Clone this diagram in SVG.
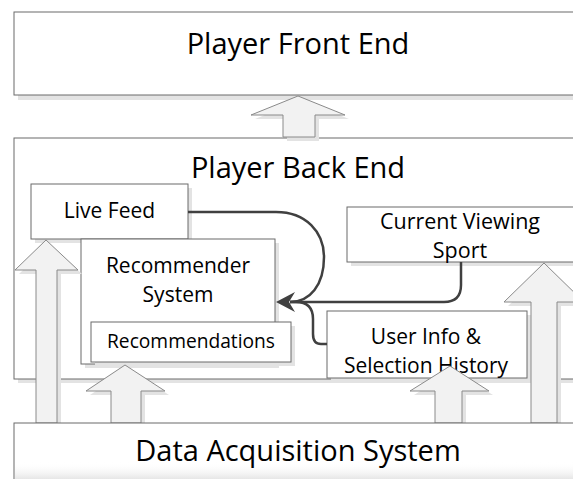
<svg xmlns="http://www.w3.org/2000/svg" width="573" height="479" viewBox="0 0 573 479">
  <style>
    .box { fill: #ffffff; stroke: #6b6b6b; stroke-width: 1; }
    .shadow { fill: #e3e3e3; stroke: none; }
    .big { font-family: "Open Sans", "Liberation Sans", sans-serif; font-size: 29px; fill: #000; text-anchor: middle; }
    .mid { font-family: "Open Sans", "Liberation Sans", sans-serif; font-size: 21px; fill: #000; text-anchor: middle; }
    .wide { font-size: 21.5px; }
    .small { font-family: "Open Sans", "Liberation Sans", sans-serif; font-size: 19.2px; fill: #000; text-anchor: middle; }
    .block { fill: #f2f2f2; stroke: #8a8a8a; stroke-width: 1; }
    .flow { fill: none; stroke: #404040; stroke-width: 2.5; }
  </style>
  <defs>
    <linearGradient id="fade" x1="0" y1="0" x2="0" y2="1">
      <stop offset="0" stop-color="#ffffff" stop-opacity="0"/>
      <stop offset="1" stop-color="#e6e6e6"/>
    </linearGradient>
  </defs>

  <rect width="573" height="479" fill="#ffffff"/>

  <!-- Front end layer -->
  <g id="front-end">
    <rect class="shadow" x="18" y="16" width="570" height="84"/>
    <rect class="box" x="14" y="12" width="570" height="83"/>
    <text class="big" x="298" y="54">Player Front End</text>
  </g>

  <!-- Back end layer -->
  <g id="back-end">
    <rect class="shadow" x="18" y="142" width="570" height="241"/>
    <rect class="box" x="14" y="138" width="570" height="241"/>
    <text class="big" x="298" y="178">Player Back End</text>
  </g>

  <g id="live-feed">
    <rect class="shadow" x="35" y="188" width="157" height="55"/>
    <rect class="box" x="31" y="184" width="157" height="55"/>
    <text class="mid" x="109.5" y="218">Live Feed</text>
  </g>

  <g id="recommender-system">
    <rect class="shadow" x="85" y="243" width="194" height="125"/>
    <rect class="box" x="81" y="239" width="194" height="125"/>
    <text class="mid" x="178" y="273">Recommender</text>
    <text class="mid" x="178" y="302">System</text>
  </g>

  <g id="recommendations">
    <rect class="shadow" x="95" y="326" width="200" height="40"/>
    <rect class="box" x="91" y="322" width="200" height="40"/>
    <text class="small" x="191" y="348">Recommendations</text>
  </g>

  <g id="current-viewing-sport">
    <rect class="shadow" x="351" y="211" width="230" height="55"/>
    <rect class="box" x="347" y="207" width="230" height="55"/>
    <text class="mid wide" x="460" y="229">Current Viewing</text>
    <text class="mid wide" x="460" y="258">Sport</text>
  </g>

  <g id="user-info">
    <rect class="shadow" x="331" y="315" width="200" height="67"/>
    <rect class="box" x="327" y="311" width="200" height="67"/>
    <text class="mid" x="426" y="344">User Info &amp;</text>
    <text class="mid" x="426" y="373">Selection History</text>
  </g>

  <!-- Connectors: data flow lines and block arrows -->
  <g id="connectors">
    <path class="flow" d="M188,212 H276 C306,212 324,232 324,257 C324,285 310,302 290,302"/>
    <path class="flow" d="M461,262 V285 Q461,302 444,302 H290"/>
    <path class="flow" d="M327,344 H321 Q313,344 313,334 V319 Q313,302 296,302 H290"/>
    <polygon fill="#404040" points="276,302 295,292 289,302 295,312"/>

    <!-- back end to front end -->
    <g transform="translate(4,4)">
      <polygon class="shadow" points="298,96 345,115 315,115 315,137 283,137 283,115 251,115"/>
    </g>
    <polygon class="block" points="298,96 345,115 315,115 315,137 283,137 283,115 251,115"/>

    <!-- acquisition to live feed -->
    <g transform="translate(4,4)">
      <polygon class="shadow" points="46,240 78,270 57,270 57,423 36,423 36,270 15,270"/>
    </g>
    <polygon class="block" points="46,240 78,270 57,270 57,423 36,423 36,270 15,270"/>

    <!-- acquisition to recommendations -->
    <g transform="translate(4,4)">
      <polygon class="shadow" points="125,365 165,391 141,391 141,423 111,423 111,391 86,391"/>
    </g>
    <polygon class="block" points="125,365 165,391 141,391 141,423 111,423 111,391 86,391"/>

    <!-- acquisition to user info -->
    <g transform="translate(4,4)">
      <polygon class="shadow" points="450,366 489,391 462,391 462,423 435,423 435,391 410,391"/>
    </g>
    <polygon class="block" points="450,366 489,391 462,391 462,423 435,423 435,391 410,391"/>

    <!-- acquisition to current viewing sport -->
    <g transform="translate(4,4)">
      <polygon class="shadow" points="544,263 584,302 557,302 557,423 531,423 531,302 504,302"/>
    </g>
    <polygon class="block" points="544,263 584,302 557,302 557,423 531,423 531,302 504,302"/>
  </g>

  <!-- Data acquisition layer -->
  <g id="data-acquisition">
    <rect class="box" x="14" y="423" width="570" height="70"/>
    <rect x="15" y="462" width="570" height="17" fill="url(#fade)"/>
    <text class="big" x="298" y="461">Data Acquisition System</text>
  </g>
</svg>
